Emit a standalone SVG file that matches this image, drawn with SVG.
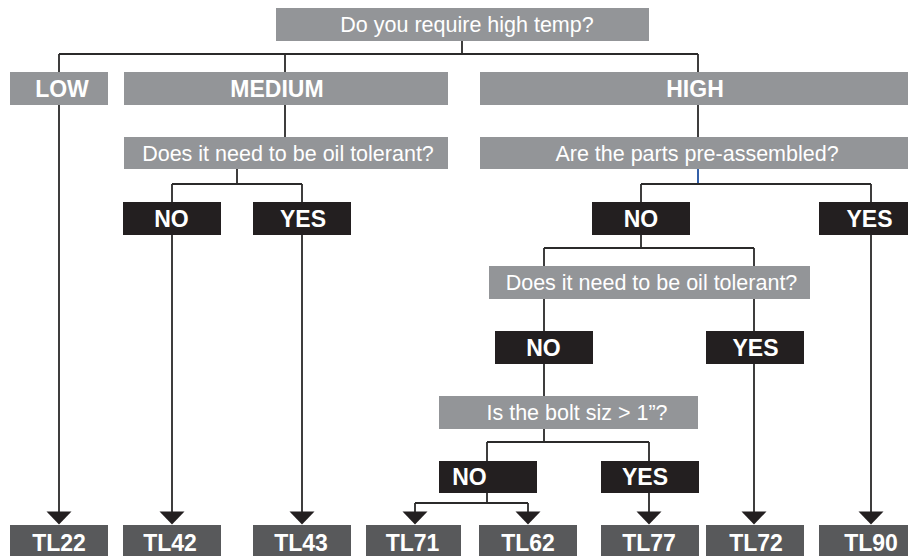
<svg xmlns="http://www.w3.org/2000/svg" width="908" height="556" viewBox="0 0 908 556">
<defs>
<style>
.q{fill:#939598}
.d{fill:#231f20}
.t{fill:#58595b}
.qt{font-family:"Liberation Sans",Arial,sans-serif;font-size:21.5px;fill:#ffffff;text-anchor:middle}
.bt{font-family:"Liberation Sans",Arial,sans-serif;font-size:23px;font-weight:bold;fill:#ffffff;text-anchor:middle}
.ln{stroke:#2b2a2a;stroke-width:1.8;fill:none}
.ah{fill:#231f20}
</style>
</defs>
<rect width="908" height="556" fill="#ffffff"/>
<g id="connectors">
<path class="ln" d="M462 41V54M59 54H698M59 54V512M285 54V137M698 54V137"/>
<path class="ln" d="M237 169V184M172 184H302M172 184V512M302 184V512"/>
<path d="M698 169V184" stroke="#1f4f9f" stroke-width="1.8" fill="none"/>
<path class="ln" d="M641 184H871M641 184V248M871 184V512"/>
<path class="ln" d="M544 248H754M544 248V442M754 248V512"/>
<path class="ln" d="M487 442H649M487 442V503M649 442V512"/>
<path class="ln" d="M415 503H528M415 503V512M528 503V512"/>
<polygon class="ah" points="46.5,511.5 71.5,511.5 59,524.5"/>
<polygon class="ah" points="159.5,511.5 184.5,511.5 172,524.5"/>
<polygon class="ah" points="289.5,511.5 314.5,511.5 302,524.5"/>
<polygon class="ah" points="402.5,511.5 427.5,511.5 415,524.5"/>
<polygon class="ah" points="515.5,511.5 540.5,511.5 528,524.5"/>
<polygon class="ah" points="636.5,511.5 661.5,511.5 649,524.5"/>
<polygon class="ah" points="741.5,511.5 766.5,511.5 754,524.5"/>
<polygon class="ah" points="858.5,511.5 883.5,511.5 871,524.5"/>
</g>
<g id="q-temp"><rect class="q" x="276" y="8" width="373" height="33"/><text class="qt" x="467" y="32.3">Do you require high temp?</text></g>
<g id="low"><rect class="q" x="10" y="72" width="98" height="33"/><text class="bt" x="62" y="96.5">LOW</text></g>
<g id="medium"><rect class="q" x="124" y="72" width="324" height="33"/><text class="bt" x="277" y="96.5">MEDIUM</text></g>
<g id="high"><rect class="q" x="480" y="72" width="428" height="33"/><text class="bt" x="695" y="96.5">HIGH</text></g>
<g id="q-oil-med"><rect class="q" x="124" y="137" width="324" height="32"/><text class="qt" x="288" y="161">Does it need to be oil tolerant?</text></g>
<g id="q-preassembled"><rect class="q" x="480" y="137" width="428" height="32"/><text class="qt" x="697" y="161">Are the parts pre-assembled?</text></g>
<g id="med-no"><rect class="d" x="123" y="202" width="98" height="33"/><text class="bt" x="171.5" y="226.5">NO</text></g>
<g id="med-yes"><rect class="d" x="253" y="202" width="98" height="33"/><text class="bt" x="303" y="226.5">YES</text></g>
<g id="pre-no"><rect class="d" x="592" y="202" width="98" height="33"/><text class="bt" x="641" y="226.5">NO</text></g>
<g id="pre-yes"><rect class="d" x="819" y="202" width="89" height="33"/><text class="bt" x="869.5" y="226.5">YES</text></g>
<g id="q-oil-high"><rect class="q" x="489" y="266" width="321" height="33"/><text class="qt" x="651.5" y="290">Does it need to be oil tolerant?</text></g>
<g id="oil-no"><rect class="d" x="495" y="331" width="98" height="33"/><text class="bt" x="543.5" y="355.5">NO</text></g>
<g id="oil-yes"><rect class="d" x="706" y="331" width="98" height="33"/><text class="bt" x="755.5" y="355.5">YES</text></g>
<g id="q-bolt"><rect class="q" x="439" y="396" width="259" height="33"/><text class="qt" x="577" y="420">Is the bolt siz &gt; 1”?</text></g>
<g id="bolt-no"><rect class="d" x="439" y="461" width="98" height="32"/><text class="bt" x="469.5" y="485">NO</text></g>
<g id="bolt-yes"><rect class="d" x="601" y="461" width="98" height="32"/><text class="bt" x="645" y="485">YES</text></g>
<g id="tl22"><rect class="t" x="10" y="525" width="98" height="33"/><text class="bt" x="59" y="551">TL22</text></g>
<g id="tl42"><rect class="t" x="123" y="525" width="98" height="33"/><text class="bt" x="170" y="551">TL42</text></g>
<g id="tl43"><rect class="t" x="253" y="525" width="98" height="33"/><text class="bt" x="301" y="551">TL43</text></g>
<g id="tl71"><rect class="t" x="366" y="525" width="95" height="33"/><text class="bt" x="412.5" y="551">TL71</text></g>
<g id="tl62"><rect class="t" x="479" y="525" width="98" height="33"/><text class="bt" x="528" y="551">TL62</text></g>
<g id="tl77"><rect class="t" x="601" y="525" width="98" height="33"/><text class="bt" x="649" y="551">TL77</text></g>
<g id="tl72"><rect class="t" x="706" y="525" width="98" height="33"/><text class="bt" x="756" y="551">TL72</text></g>
<g id="tl90"><rect class="t" x="819" y="525" width="89" height="33"/><text class="bt" x="871" y="551">TL90</text></g>
</svg>
